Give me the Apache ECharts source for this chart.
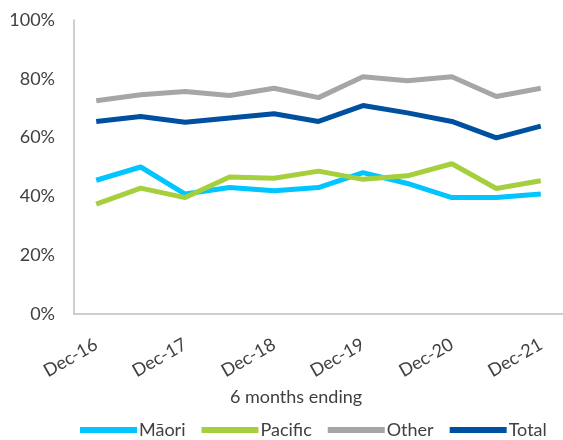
<!DOCTYPE html>
<html>
<head>
<meta charset="utf-8">
<script src="https://cdn.jsdelivr.net/npm/echarts@6/dist/echarts.min.js"></script>
<style>
  html, body { margin: 0; padding: 0; background: #fff; }
  #main { width: 563px; height: 440px; }
</style>
</head>
<body>
<div id="main"></div>
<script>
// 6 monthly periods
var periods = ['Dec-16', 'Jun-17', 'Dec-17', 'Jun-18', 'Dec-18', 'Jun-19',
               'Dec-19', 'Jun-20', 'Dec-20', 'Jun-21', 'Dec-21'];

var maori   = [45.5, 50.0, 40.8, 43.0, 41.9, 43.0, 48.1, 44.4, 39.6, 39.6, 40.8];
var pacific = [37.4, 42.8, 39.6, 46.6, 46.2, 48.6, 45.8, 47.0, 51.1, 42.7, 45.3];
var other   = [72.5, 74.6, 75.7, 74.3, 76.8, 73.6, 80.7, 79.3, 80.7, 74.0, 76.8];
var total   = [65.5, 67.2, 65.2, 66.7, 68.1, 65.5, 70.9, 68.4, 65.5, 59.9, 63.9];

var yTicks = [0, 20, 40, 60, 80, 100];

var fontName = 'Lato';
var textColor = '#404040';

var myChart = echarts.init(document.getElementById('main'));

function line(name, data, color) {
    return {
        name: name,
        type: 'line',
        data: data,
        symbol: 'none',
        lineStyle: { width: 5, color: color },
        itemStyle: { color: color }
    };
}

var option = {
    animation: false,
    textStyle: { fontFamily: fontName },
    grid: { left: 74, right: -4, top: 20, bottom: 126 },
    xAxis: {
        type: 'category',
        data: periods,
        boundaryGap: true,
        axisLine: { lineStyle: { color: '#bfbfbf', width: 1.5 } },
        axisTick: { show: false },
        axisLabel: {
            interval: 1,
            rotate: 30,
            fontSize: 18,
            color: textColor,
            fontFamily: fontName,
            margin: 29
        }
    },
    yAxis: {
        type: 'value',
        min: yTicks[0],
        max: yTicks[yTicks.length - 1],
        interval: 20,
        splitLine: { show: false },
        axisLine: { show: true, lineStyle: { color: '#bfbfbf', width: 1.5 } },
        axisTick: { show: false },
        axisLabel: {
            formatter: '{value}%',
            fontSize: 18,
            color: textColor,
            fontFamily: fontName,
            margin: 19
        }
    },
    legend: {
        top: 416,
        left: 75,
        icon: 'rect',
        itemWidth: 57,
        itemHeight: 6,
        itemGap: 16,
        textStyle: { fontSize: 18, color: textColor, fontFamily: fontName, padding: [0, 0, 0, -3] },
        data: ['Māori', 'Pacific', 'Other', 'Total']
    },
    graphic: [{
        type: 'text',
        x: 296,
        y: 397,
        style: {
            text: '6 months ending',
            fontSize: 18,
            fontFamily: fontName,
            fill: textColor,
            align: 'center',
            verticalAlign: 'middle'
        }
    }],
    series: [
        line('Māori', maori, '#00c5ff'),
        line('Pacific', pacific, '#a5cf3c'),
        line('Other', other, '#a6a6a6'),
        line('Total', total, '#0050a0')
    ]
};

myChart.setOption(option);
</script>
</body>
</html>
